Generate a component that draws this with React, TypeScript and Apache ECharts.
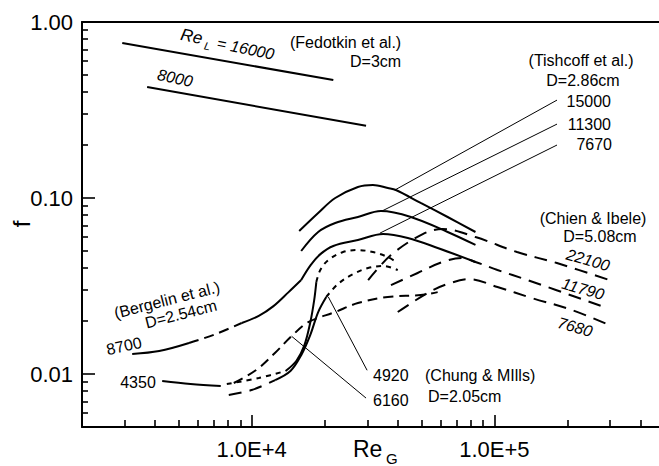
import React, { useEffect, useRef } from "react";
import * as echarts from "echarts";

const FONT = '"Liberation Sans", Arial, Helvetica, sans-serif';

// Axis ranges (log-log)
const X_MIN = 2000;
const X_MAX = 500000;
const Y_MIN = 0.005;
const Y_MAX = 1;

const xMajorTicks = [10000, 100000];
const xTickLabels = ["1.0E+4", "1.0E+5"];
const yMajorTicks = [0.01, 0.1, 1];
const yTickLabels = ["0.01", "0.10", "1.00"];

type Pt = [number, number];

// Fedotkin et al., D = 3 cm
const fedotkin16000: Pt[] = [[2930, 0.76], [21700, 0.468]];
const fedotkin8000: Pt[] = [[3710, 0.427], [29600, 0.257]];

// Tishcoff et al., D = 2.86 cm
const tishcoff15000: Pt[] = [[15700, 0.0649], [18800, 0.0822], [22100, 0.1], [27400, 0.1155], [31600, 0.1186], [36400, 0.1139], [39300, 0.111], [49700, 0.0937], [64200, 0.078], [83600, 0.0641]];
const tishcoff11300: Pt[] = [[16000, 0.05], [18800, 0.0641], [22100, 0.0721], [27400, 0.078], [34100, 0.0843], [45300, 0.078], [64200, 0.0641], [83600, 0.0541]];
const tishcoff7670: Pt[] = [[16000, 0.0342], [17500, 0.0416], [19200, 0.048], [21700, 0.0534], [27400, 0.0577], [34800, 0.0624], [44000, 0.0592], [58400, 0.052], [83600, 0.0433]];

// Bergelin et al., D = 2.54 cm
const bergelin8700Low: Pt[] = [[3220, 0.013], [4160, 0.0135], [5520, 0.015]];
const bergelin8700Mid: Pt[] = [[5520, 0.015], [6980, 0.0167], [9100, 0.0195]];
const bergelin8700High: Pt[] = [[9100, 0.0195], [10700, 0.0214], [12300, 0.0243], [14200, 0.0292], [16000, 0.0342]];
const bergelin4350Low: Pt[] = [[4280, 0.00912], [5600, 0.00877], [7460, 0.00855]];
const bergelin4350Mid: Pt[] = [[7900, 0.00877], [10700, 0.00949], [13800, 0.0104]];
const bergelin4350Rise: Pt[] = [[13800, 0.0104], [15300, 0.0119], [16500, 0.0146], [17450, 0.0197], [18100, 0.0263], [18470, 0.0333]];
const bergelin4350Top: Pt[] = [[18470, 0.0333], [19180, 0.039], [20700, 0.0444], [23800, 0.0493], [27400, 0.0506], [31600, 0.0493], [36400, 0.0462], [40000, 0.0427]];

// Chung & Mills, D = 2.05 cm
const chung4920Low: Pt[] = [[8050, 0.0076], [10000, 0.00811], [12500, 0.00924]];
const chung4920Rise: Pt[] = [[12500, 0.00924], [14450, 0.0104], [16000, 0.0128], [17450, 0.0167], [18800, 0.0225], [20300, 0.0274]];
const chung4920Top: Pt[] = [[20300, 0.0274], [22700, 0.0325], [26200, 0.037], [30200, 0.04], [34800, 0.0411], [40000, 0.039]];
const chung6160: Pt[] = [[8440, 0.00889], [10400, 0.0105], [12500, 0.0132], [14600, 0.0164], [17100, 0.0197], [22100, 0.0225], [27400, 0.0253], [36400, 0.0274], [49700, 0.0281], [58400, 0.0292]];

// Chien & Ibele, D = 5.08 cm
const chien22100: Pt[] = [[30200, 0.0342], [37500, 0.0474], [50700, 0.0624], [61200, 0.0667], [83600, 0.06], [124000, 0.0493], [181000, 0.0427], [305000, 0.0338]];
const chien11790: Pt[] = [[37500, 0.032], [48300, 0.0375], [61200, 0.0433], [73900, 0.0456], [83600, 0.0433], [103000, 0.039], [137000, 0.0342], [277000, 0.0243]];
const chien7680: Pt[] = [[40000, 0.0225], [53100, 0.0289], [64200, 0.0325], [79000, 0.0346], [103000, 0.0312], [143000, 0.027], [209000, 0.0231], [297000, 0.019]];

// Leader lines from the Re_L labels to their curves
const leader15000: Pt[] = [[181200, 0.36], [38900, 0.111]];
const leader11300: Pt[] = [[181200, 0.263], [34400, 0.0843]];
const leader7670: Pt[] = [[181200, 0.2], [33800, 0.0632]];
const leader4920: Pt[] = [[29900, 0.0105], [20700, 0.0274]];
const leader6160: Pt[] = [[29600, 0.0073], [14600, 0.0164]];

const SOLID = "solid";
const LONG_DASH = [13, 8];
const MID_DASH = [10, 6];
const SHORT_DASH = [5, 5];

function curve(name: string, data: Pt[], dash: any, width = 2, smooth: number = 0.35) {
  return {
    type: "line",
    name,
    data,
    symbol: "none",
    showSymbol: false,
    smooth,
    silent: true,
    clip: false,
    lineStyle: { color: "#000", width, type: dash, cap: "butt" },
    z: 3,
  };
}

function tickLabel(ticks: number[], labels: string[]) {
  return (v: number) => {
    const i = ticks.findIndex((t) => Math.abs(t - v) / t < 1e-6);
    return i >= 0 ? labels[i] : "";
  };
}

function txt(text: string, x: number, y: number, opts: any = {}) {
  return {
    type: "text",
    x,
    y,
    rotation: opts.rotation || 0,
    silent: true,
    z: 10,
    style: {
      text,
      fill: "#000",
      fontFamily: FONT,
      fontSize: opts.size || 16,
      fontStyle: opts.italic ? "italic" : "normal",
      align: opts.align || "left",
      verticalAlign: "middle",
    },
  };
}

function lineStyle(width: number) {
  return { color: "#000", width };
}

function logAxis(min: number, max: number, tickLen: number, minorLen: number, labels: any) {
  return {
    type: "log",
    logBase: 10,
    min,
    max,
    axisLine: { show: true, onZero: false, lineStyle: lineStyle(2) },
    axisTick: { show: true, inside: true, length: tickLen, lineStyle: lineStyle(1.6) },
    minorTick: { show: true, splitNumber: 9, length: minorLen, lineStyle: lineStyle(1.6) },
    splitLine: { show: false },
    axisLabel: labels,
  };
}

export default function App() {
  const ref = useRef<HTMLDivElement>(null);

  useEffect(() => {
    if (!ref.current) return;
    const chart = echarts.init(ref.current, undefined, { renderer: "svg" });

    const option: any = {
      animation: false,
      grid: { left: 82, top: 22, right: 0, bottom: 39 },
      xAxis: [
        logAxis(X_MIN, X_MAX, 12, 7, {
          color: "#000", fontSize: 22, fontFamily: FONT, margin: 11,
          formatter: tickLabel(xMajorTicks, xTickLabels),
        }),
        {
          // frame line along the top edge
          type: "log",
          logBase: 10,
          min: X_MIN,
          max: X_MAX,
          position: "top",
          axisLine: { show: true, onZero: false, lineStyle: lineStyle(2) },
          axisTick: { show: false },
          axisLabel: { show: false },
          splitLine: { show: false },
        },
      ],
      yAxis: logAxis(Y_MIN, Y_MAX, 13, 6, {
        color: "#000", fontSize: 22, fontFamily: FONT, margin: 9,
        formatter: tickLabel(yMajorTicks, yTickLabels),
      }),
      series: [
        curve("Fedotkin 16000", fedotkin16000, SOLID, 2, 0),
        curve("Fedotkin 8000", fedotkin8000, SOLID, 2, 0),
        curve("Tishcoff 15000", tishcoff15000, SOLID),
        curve("Tishcoff 11300", tishcoff11300, SOLID),
        curve("Tishcoff 7670", tishcoff7670, SOLID),
        curve("Bergelin 8700 a", bergelin8700Low, SOLID),
        curve("Bergelin 8700 b", bergelin8700Mid, MID_DASH),
        curve("Bergelin 8700 c", bergelin8700High, SOLID),
        curve("Bergelin 4350 a", bergelin4350Low, SOLID),
        curve("Bergelin 4350 b", bergelin4350Mid, SHORT_DASH),
        curve("Bergelin 4350 c", bergelin4350Rise, SOLID),
        curve("Bergelin 4350 d", bergelin4350Top, SHORT_DASH),
        curve("Chung 4920 a", chung4920Low, LONG_DASH),
        curve("Chung 4920 b", chung4920Rise, SOLID),
        curve("Chung 4920 c", chung4920Top, SHORT_DASH),
        curve("Chung 6160", chung6160, MID_DASH),
        curve("Chien 22100", chien22100, LONG_DASH),
        curve("Chien 11790", chien11790, LONG_DASH),
        curve("Chien 7680", chien7680, LONG_DASH),
        curve("leader 15000", leader15000, SOLID, 1, 0),
        curve("leader 11300", leader11300, SOLID, 1, 0),
        curve("leader 7670", leader7670, SOLID, 1, 0),
        curve("leader 4920", leader4920, SOLID, 1, 0),
        curve("leader 6160", leader6160, SOLID, 1, 0),
      ],
      graphic: [
        // axis titles
        txt("f", 21, 224, { size: 24, align: "center", rotation: Math.PI / 2 }),
        txt("Re", 353, 449, { size: 23 }),
        txt("G", 386, 458, { size: 15 }),
        // Fedotkin et al.
        {
          type: "group",
          x: 228,
          y: 44,
          rotation: -0.2,
          silent: true,
          children: [
            txt("Re", -48, 0, { size: 17, italic: true }),
            txt("L", -23, 6, { size: 11, italic: true }),
            txt("= 16000", -11, 1, { size: 16, italic: true }),
          ],
        },
        txt("8000", 175, 78, { italic: true, align: "center", rotation: -0.2 }),
        txt("(Fedotkin et al.)", 290, 42),
        txt("D=3cm", 350, 61),
        // Tishcoff et al.
        txt("(Tishcoff et al.)", 581, 60, { align: "center" }),
        txt("D=2.86cm", 583, 80, { align: "center" }),
        txt("15000", 611, 101, { align: "right" }),
        txt("11300", 611, 124, { align: "right" }),
        txt("7670", 612, 144, { align: "right" }),
        // Chien & Ibele
        txt("(Chien & Ibele)", 593, 218, { align: "center" }),
        txt("D=5.08cm", 600, 236, { align: "center" }),
        txt("22100", 588, 260, { italic: true, align: "center", rotation: -0.28 }),
        txt("11790", 583, 289, { italic: true, align: "center", rotation: -0.28 }),
        txt("7680", 575, 327, { italic: true, align: "center", rotation: -0.28 }),
        // Bergelin et al.
        txt("(Bergelin et al.)", 167, 300, { align: "center", rotation: 0.25 }),
        txt("D=2.54cm", 181, 314, { align: "center", rotation: 0.25 }),
        txt("8700", 124, 346, { align: "center", rotation: 0.22 }),
        txt("4350", 138, 382, { align: "center" }),
        // Chung & Mills
        txt("4920", 373, 375),
        txt("6160", 373, 400),
        txt("(Chung & MIlls)", 425, 375),
        txt("D=2.05cm", 428, 396),
      ],
    };

    chart.setOption(option);
    return () => chart.dispose();
  }, []);

  // The frame runs past the right edge of the 659px view, as the axis extends to 5E+5.
  return (
    <div
      ref={ref}
      style={{ position: "fixed", left: 0, top: 0, width: 667, height: 466, background: "#fff" }}
    />
  );
}
